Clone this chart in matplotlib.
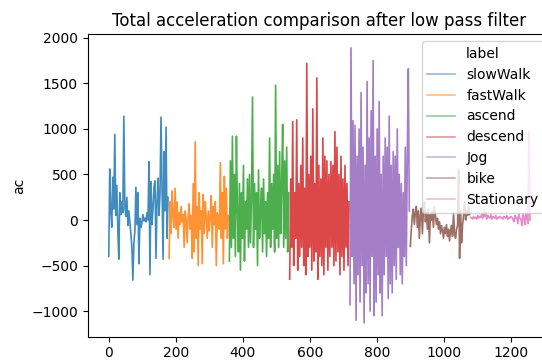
import numpy as np
import matplotlib.pyplot as plt

# total acceleration (after low pass filter), one block per activity
# every third sample is kept

labels = ['slowWalk', 'fastWalk', 'ascend', 'descend', 'Jog', 'bike', 'Stationary']
starts = [0, 180, 360, 540, 720, 900, 1080]
step = 3

slow_walk = [-400, 560, 100, -80, 470, 120, 940, 50, 380, -100,
             -430, 300, 60, 200, 80, 1140, 150, 40, 250, -60,
             100, -20, -150, -300, -660, -250, -120, 360, -50, 300,
             -480, 20, -80, -30, 60, -10, 20, -20, 80, 0,
             640, -600, 420, -50, 120, 360, 430, -420, 200, 460,
             50, 300, 1130, 350, -430, 750, 100, 1020, -200, 250]

fast_walk = [-420, 200, -150, 320, 50, -80, 350, -100, 200, -200,
             80, -50, 150, -20, 60, -300, 100, 0, -250, 50,
             180, -100, 50, -420, 400, -350, 860, -200, 150, -500,
             300, -100, 100, -480, 280, -150, 200, 40, -200, 100,
             -120, 60, 270, -300, 150, -50, 200, -500, 80, 0,
             -100, 630, -200, 300, -480, 480, -100, 350, -200, 50]

ascend = [-450, 650, -300, 920, -200, 500, -400, 920, 100, -350,
          400, -550, 300, -200, 600, -450, 200, -100, 450, -300,
          500, -250, 250, 1350, -300, 400, -100, 300, -500, 550,
          -200, 100, 350, -350, 450, -150, 200, -400, 300, -200,
          900, -300, 400, -100, 500, -350, 1480, -200, 600, -300,
          750, -150, 400, 1050, -300, 650, -200, 800, -350, 300]

descend = [-650, 450, -300, 1080, -500, 300, -200, 1100, -550, 400,
           -400, 600, -300, 900, -500, 350, -600, 1720, -400, 500,
           -300, 700, -550, 1220, -450, 400, -350, 1560, -650, 600,
           -400, 450, -500, 900, -600, 700, -300, 650, -550, 500,
           -400, 640, -300, 600, -500, 970, -450, 800, -350, 500,
           -600, 700, -400, 450, -550, 600, -300, 400, -500, 200]

jog = [-930, 1890, -400, 1090, -700, 1040, -1100, 700, -600, 1000,
       -900, 1400, -500, 800, -1130, 600, -800, 1520, -700, 900,
       -1000, 1200, -400, 1750, -1050, 700, -900, 1000, -600, 1300,
       -800, 500, -1050, 700, -600, 900, -400, 800, -860, 1140,
       -700, 600, -800, 750, -500, 700, -650, 1000, -300, 500,
       -600, 400, -700, 300, -400, 800, -500, 700, 1660, 100]

bike = [-290, -100, 50, 120, -50, 80, 150, -80, 100, -200,
        50, 130, -150, 100, 200, -20, 80, -100, 120, -250,
        60, 0, 100, -80, 150, 50, -50, 20, -100, -20,
        -150, -60, -120, -200, -80, -150, -50, -180, -100, -230,
        -120, -60, -180, 80, -150, -200, -100, -60, 560, -420,
        100, -250, -50, 50, 200, 0, 100, 50, 150, 60]

stationary = [30, 20, 10, 40, 20, 30, 10, 50, 20, 40,
              30, 60, 20, 110, 40, 80, 10, 50, 30, 20,
              60, 10, 40, 30, 20, 50, 10, 30, 20, 40,
              30, 20, 10, 40, 30, 20, 50, 10, 30, 20,
              40, 30, 10, -20, 50, 20, 30, -40, 60, 20,
              10, -60, 70, 30, -50, 80, 20, -40, 970, 0]

series = [slow_walk, fast_walk, ascend, descend, jog, bike, stationary]

fig = plt.figure(figsize=(5.42, 3.6), dpi=100)
# the original screenshot cuts the axes off on the right
ax = fig.add_axes([0.1618, 0.0647, 0.8548, 0.8405])

for i, (name, vals) in enumerate(zip(labels, series)):
    x = starts[i] + step * np.arange(len(vals))
    ax.plot(x, vals, color='C%d' % i, lw=1.2, alpha=0.85, label=name)

ax.set_ylabel('ac')
ax.set_title('Total acceleration comparison after low pass filter')
ax.set_yticks([-1000, -500, 0, 500, 1000, 1500, 2000])
ax.set_xticks([0, 200, 400, 600, 800, 1000, 1200])
leg = ax.legend(title='label', loc='upper right')
for h in leg.get_lines():
    h.set_alpha(0.5)

fig.savefig('out.png', dpi=100)
